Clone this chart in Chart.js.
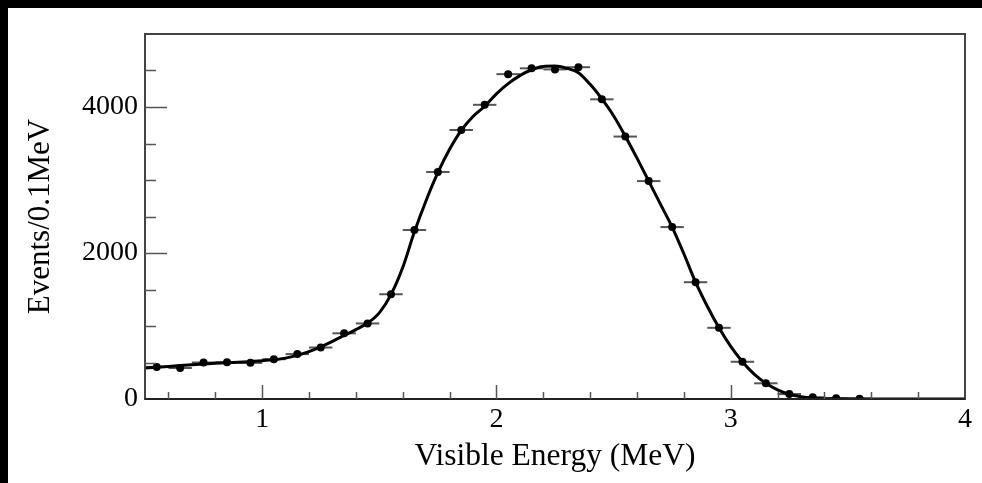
<!DOCTYPE html>
<html>
<head>
<meta charset="utf-8">
<script src="https://cdn.jsdelivr.net/npm/chart.js@4.4.0/dist/chart.umd.min.js"></script>
<style>
  html, body { margin: 0; padding: 0; background: #000; }
  #wrap { position: absolute; left: 8px; top: 8px; width: 974px; height: 475px; background: #fff; }
</style>
</head>
<body>
<div id="wrap"><canvas id="spectrum" width="974" height="475"></canvas></div>
<script>
// measured spectrum, 0.1 MeV bins
var binCenters = [0.55, 0.65, 0.75, 0.85, 0.95, 1.05, 1.15, 1.25, 1.35, 1.45,
  1.55, 1.65, 1.75, 1.85, 1.95, 2.05, 2.15, 2.25, 2.35, 2.45,
  2.55, 2.65, 2.75, 2.85, 2.95, 3.05, 3.15, 3.25, 3.35, 3.45, 3.55]
var binCounts = [440, 425, 500, 505, 495, 545, 615, 705, 900, 1035,
  1435, 2315, 3110, 3685, 4030, 4450, 4530, 4515, 4545, 4105,
  3595, 2985, 2355, 1600, 975, 510, 215, 68, 25, 10, 5]
var binHalfWidth = 0.05

// fitted curve
var fitX = [0.5, 0.6, 0.7, 0.8, 0.9, 1.0, 1.1, 1.15, 1.2, 1.25, 1.3, 1.35, 1.4, 1.45,
  1.5, 1.55, 1.6, 1.65, 1.7, 1.75, 1.8, 1.85, 1.9, 1.95, 2.0, 2.05, 2.1, 2.15,
  2.2, 2.25, 2.3, 2.35, 2.4, 2.45, 2.5, 2.55, 2.6, 2.65, 2.7, 2.75, 2.8, 2.85,
  2.9, 2.95, 3.0, 3.05, 3.1, 3.15, 3.2, 3.25, 3.3, 3.35, 3.45, 3.6, 4.0]
var fitY = [425, 445, 470, 490, 505, 525, 560, 600, 650, 715, 790, 870, 950, 1040,
  1180, 1430, 1800, 2290, 2720, 3100, 3420, 3680, 3870, 4010, 4180, 4320, 4430, 4510,
  4555, 4560, 4530, 4470, 4310, 4110, 3880, 3600, 3300, 2985, 2670, 2355, 1990, 1600,
  1270, 975, 720, 510, 340, 215, 125, 65, 30, 12, 2, 0, 0]

var xTickLabels = [1, 2, 3, 4]
var yTickLabels = [0, 2000, 4000]

var serif = "'Liberation Serif', 'DejaVu Serif', serif"

var pointsData = binCenters.map(function (x, i) { return { x: x, y: binCounts[i] } })
var fitData = fitX.map(function (x, i) { return { x: x, y: fitY[i] } })

// horizontal bin-width bars under the points
var errorBars = {
  id: 'errorBars',
  beforeDatasetsDraw: function (chart) {
    var ctx = chart.ctx
    var xs = chart.scales.x
    var ys = chart.scales.y
    ctx.save()
    ctx.strokeStyle = '#555'
    ctx.lineWidth = 2
    binCenters.forEach(function (x, i) {
      var py = ys.getPixelForValue(binCounts[i])
      ctx.beginPath()
      ctx.moveTo(xs.getPixelForValue(x - binHalfWidth), py)
      ctx.lineTo(xs.getPixelForValue(x + binHalfWidth), py)
      ctx.stroke()
    })
    ctx.restore()
  }
}

// frame and inward ticks
var frame = {
  id: 'frame',
  afterDraw: function (chart) {
    var ctx = chart.ctx
    var a = chart.chartArea
    var xs = chart.scales.x
    var ys = chart.scales.y
    ctx.save()
    ctx.strokeStyle = '#444'
    ctx.lineWidth = 2
    ctx.strokeRect(a.left, a.top, a.right - a.left, a.bottom - a.top)
    ctx.strokeStyle = '#222'
    ctx.lineWidth = 2
    ctx.beginPath()
    ctx.moveTo(a.left, a.bottom)
    ctx.lineTo(a.right, a.bottom)
    ctx.stroke()
    ctx.strokeStyle = '#555'
    ctx.lineWidth = 1.5
    for (var v = 0.6; v < 4; v += 0.2) {
      var px = Math.round(xs.getPixelForValue(v)) + 0.5
      var major = Math.abs(v - Math.round(v)) < 0.01
      ctx.beginPath()
      ctx.moveTo(px, a.bottom)
      ctx.lineTo(px, a.bottom - (major ? 14 : 7))
      ctx.stroke()
    }
    for (var w = 500; w < 5000; w += 500) {
      var py = Math.round(ys.getPixelForValue(w)) + 0.5
      var big = w % 2000 === 0
      ctx.beginPath()
      ctx.moveTo(a.left, py)
      ctx.lineTo(a.left + (big ? 22 : 11), py)
      ctx.stroke()
    }
    ctx.restore()
  }
}

new Chart(document.getElementById('spectrum'), {
  type: 'line',
  data: {
    datasets: [
      {
        label: 'Data',
        data: pointsData,
        showLine: false,
        pointRadius: 4,
        pointBackgroundColor: '#000',
        pointBorderWidth: 0
      },
      {
        label: 'Fit',
        data: fitData,
        borderColor: '#000',
        borderWidth: 3,
        pointRadius: 0,
        cubicInterpolationMode: 'monotone',
        fill: false
      }
    ]
  },
  options: {
    responsive: false,
    animation: false,
    events: [],
    layout: { padding: { top: 26, right: 17, left: 0, bottom: 0 } },
    plugins: { legend: { display: false }, tooltip: { enabled: false } },
    scales: {
      x: {
        type: 'linear',
        min: 0.5,
        max: 4,
        afterBuildTicks: function (s) { s.ticks = xTickLabels.map(function (v) { return { value: v } }) },
        afterFit: function (s) { s.height = 84 },
        grid: { display: false, drawTicks: false },
        border: { display: false },
        ticks: { color: '#000', font: { family: serif, size: 28 }, padding: 4, maxRotation: 0,
          callback: function (v) { return String(v) } },
        title: { display: true, text: 'Visible Energy (MeV)', color: '#000', font: { family: serif, size: 31.5 }, padding: { top: 0, bottom: 7 } }
      },
      y: {
        min: 0,
        max: 5000,
        afterBuildTicks: function (s) { s.ticks = yTickLabels.map(function (v) { return { value: v } }) },
        afterFit: function (s) { s.width = 137 },
        grid: { display: false, drawTicks: false },
        border: { display: false },
        ticks: { color: '#000', font: { family: serif, size: 28 }, padding: 7,
          callback: function (v) { return String(v) } },
        title: { display: true, text: 'Events/0.1MeV', color: '#000', font: { family: serif, size: 31 }, padding: { top: 14, bottom: 0 } }
      }
    }
  },
  plugins: [errorBars, frame]
})
</script>
</body>
</html>
